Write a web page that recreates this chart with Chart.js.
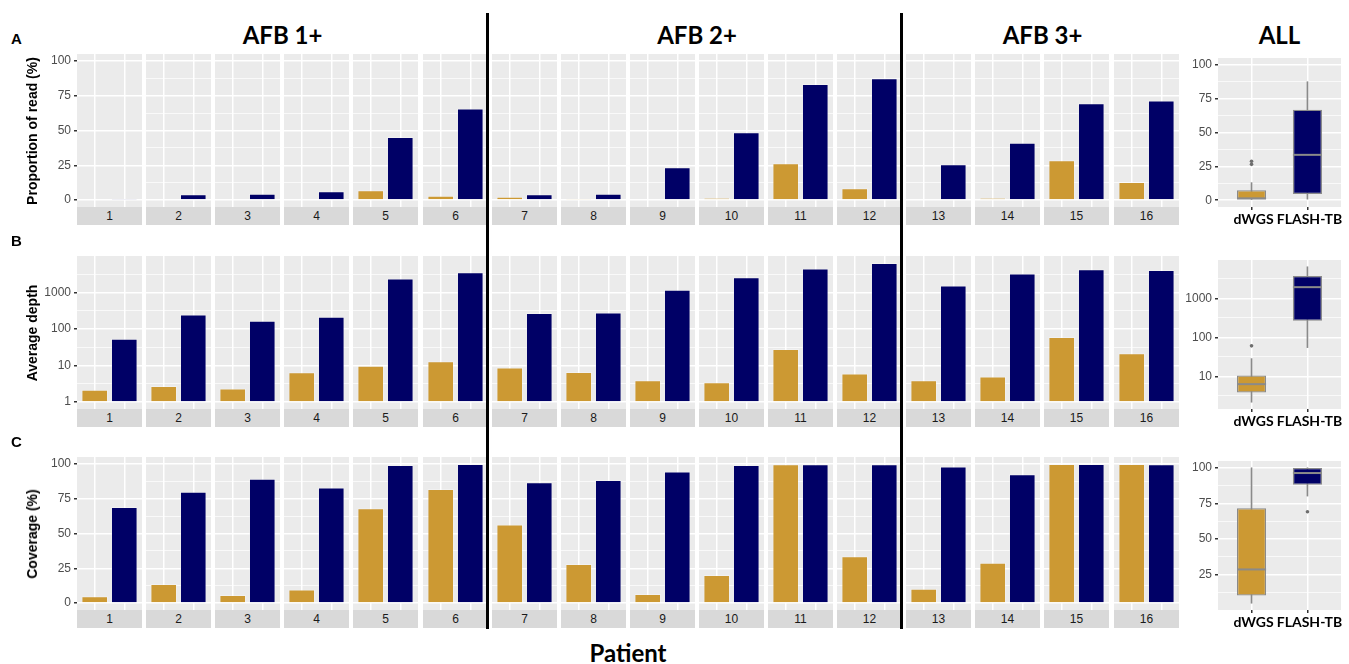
<!DOCTYPE html>
<html>
<head>
<meta charset="utf-8">
<script src="https://cdn.jsdelivr.net/npm/chart.js@4.4.0/dist/chart.umd.min.js"></script>
<style>
    body { margin: 0; background: #fff; width: 1349px; height: 664px; overflow: hidden; position: relative;
           font-family: "Liberation Sans", Arial, sans-serif; }
    canvas { position: absolute; }
    .strip { position: absolute; background: #d9d9d9; color: #1a1a1a; font-size: 12px; text-align: center; line-height: 18px; }
    .head { position: absolute; font-family: Lato, sans-serif; font-weight: bold; font-size: 24px; line-height: 24px;
            transform: translateX(-50%); white-space: nowrap; color: #000; }
    .tag { position: absolute; font-weight: bold; font-size: 15px; line-height: 15px; color: #000; }
    .ytitle { position: absolute; font-weight: bold; font-size: 14px; color: #000; white-space: nowrap;
              transform: translate(-50%, -50%) rotate(-90deg); }
    .sep { position: absolute; background: #000; width: 3px; top: 13px; height: 616px; }
</style>
</head>
<body>
<script>
// ============================================================================
// dWGS vs FLASH-TB per patient, faceted by smear grade (AFB 1+ / 2+ / 3+)
// ============================================================================

const patients = ['1', '2', '3', '4', '5', '6', '7', '8', '9', '10', '11', '12', '13', '14', '15', '16'];
const methods = ['dWGS', 'FLASH-TB'];
const afbGroups = ['AFB 1+', 'AFB 2+', 'AFB 3+'];
const afbSizes = [6, 6, 4];

// A - proportion of reads (%)
const readDwgs = [0, 0, 0, 0.5, 7.0, 3.1, 2.4, 1.0, 0.5, 1.4, 26.5, 8.4, 0.7, 1.4, 28.7, 13.0];
const readFlash = [0.8, 4.1, 4.6, 6.3, 45.3, 65.8, 4.1, 4.6, 23.6, 48.7, 83.4, 87.5, 25.8, 41.2, 69.6, 71.6];

// B - average depth
const depthDwgs = [2.17, 2.73, 2.36, 6.58, 9.8, 13.1, 8.8, 6.7, 3.98, 3.5, 28.5, 6.05, 3.98, 5.0, 60.5, 21.7];
const depthFlash = [54.5, 251, 169, 217, 2410, 3590, 273, 285, 1183, 2620, 4520, 6440, 1552, 3300, 4330, 4150];

// C - coverage (%)
const covDwgs = [4.8, 13.7, 5.8, 9.8, 68.1, 82.0, 56.4, 28.1, 6.5, 20.1, 99.8, 33.6, 10.3, 29.0, 100, 100];
const covFlash = [69.1, 80.1, 89.4, 83.0, 99.3, 100, 86.8, 88.5, 94.5, 99.3, 99.8, 99.8, 98.1, 92.6, 100, 99.8];

const percentTicks = [0, 25, 50, 75, 100];
const depthTicks = [1, 10, 100, 1000];

const GOLD = '#cc9933';
const NAVY = '#000066';
const PANEL_BG = '#ebebeb';
const BOX_LINE = '#8a8a8a';

// layout (pixels)
const PANEL_X0 = 77, PANEL_STEP = 69.1, PANEL_W = 65, PANEL_H = 153, STRIP_H = 18;
const ROW_TOPS = [54, 256, 457];
const AXIS_W = 57;
const BOX_X = 1218, BOX_W = 123, BOX_AXIS_W = 36, BOX_LABEL_H = 24;

const rows = [
    { tag: 'A', title: 'Proportion of read (%)', dwgs: readDwgs, flash: readFlash, ticks: percentTicks, log: false, fixed: [0, 100] },
    { tag: 'B', title: 'Average depth', dwgs: depthDwgs, flash: depthFlash, ticks: depthTicks, log: true },
    { tag: 'C', title: 'Coverage (%)', dwgs: covDwgs, flash: covFlash, ticks: percentTicks, log: false }
];

Chart.defaults.font.family = '"Liberation Sans", Arial, sans-serif';

function el(cls, text, css) {
    const d = document.createElement('div');
    d.className = cls;
    d.textContent = text;
    Object.assign(d.style, css);
    document.body.appendChild(d);
    return d;
}

function addCanvas(left, top, w, h) {
    const c = document.createElement('canvas');
    c.width = w; c.height = h;
    Object.assign(c.style, { left: left + 'px', top: top + 'px', width: w + 'px', height: h + 'px' });
    document.body.appendChild(c);
    return c;
}

// ggplot-like 5% expansion, done in log space for log axes
function expandRange(lo, hi, log) {
    const a = log ? Math.log10(lo) : lo, b = log ? Math.log10(hi) : hi;
    const pad = (b - a) * 0.05;
    return log ? [10 ** (a - pad), 10 ** (b + pad)] : [a - pad, b + pad];
}

// major breaks plus minor breaks half way between them
function tickList(majors, range, log) {
    const f = log ? Math.log10 : v => v;
    const g = log ? v => 10 ** v : v => v;
    const tm = majors.map(f), step = tm[1] - tm[0];
    const lo = f(range[0]), hi = f(range[1]);
    const list = tm.map(v => ({ value: v, minor: false }));
    [tm[0] - step, ...tm].forEach(v => list.push({ value: v + step / 2, minor: true }));
    return list
        .filter(t => t.value >= lo - 1e-9 && t.value <= hi + 1e-9)
        .sort((a, b) => a.value - b.value)
        .map(t => ({ value: g(t.value), minor: t.minor }));
}

function quantile(sorted, p) {
    const h = (sorted.length - 1) * p, i = Math.floor(h);
    const next = i + 1 < sorted.length ? sorted[i + 1] : sorted[i];
    return sorted[i] + (h - i) * (next - sorted[i]);
}

// Tukey box stats (computed on log10 values for the depth row, like scale_y_log10)
function boxStats(values, log) {
    const t = values.map(v => log ? Math.log10(v) : v).sort((a, b) => a - b);
    const q1 = quantile(t, 0.25), med = quantile(t, 0.5), q3 = quantile(t, 0.75);
    const iqr = q3 - q1, loF = q1 - 1.5 * iqr, hiF = q3 + 1.5 * iqr;
    const inside = t.filter(v => v >= loF && v <= hiF);
    const back = v => log ? 10 ** v : v;
    return {
        q1: back(q1), med: back(med), q3: back(q3),
        lo: back(Math.min(...inside)), hi: back(Math.max(...inside)),
        out: t.filter(v => v < loF || v > hiF).map(back)
    };
}

const panelBg = {
    id: 'panelBg',
    beforeDraw(chart) {
        const { ctx, chartArea: a } = chart;
        ctx.save();
        ctx.fillStyle = PANEL_BG;
        ctx.fillRect(a.left, a.top, a.width, a.height);
        ctx.restore();
    }
};

const medianLines = {
    id: 'medianLines',
    afterDatasetsDraw(chart) {
        const ds = chart.data.datasets[0];
        const { ctx } = chart;
        ctx.save();
        ctx.strokeStyle = BOX_LINE;
        ctx.lineWidth = 2;
        chart.getDatasetMeta(0).data.forEach((bar, i) => {
            const { x, width } = bar.getProps(['x', 'width'], true);
            const y = chart.scales.y.getPixelForValue(ds.medians[i]);
            ctx.beginPath();
            ctx.moveTo(x - width / 2, y);
            ctx.lineTo(x + width / 2, y);
            ctx.stroke();
        });
        ctx.restore();
    }
};

function yScale(range, row, axisW) {
    const list = tickList(row.ticks, range, row.log);
    const show = axisW > 0;
    return {
        type: row.log ? 'logarithmic' : 'linear',
        min: range[0], max: range[1], bounds: 'data', offset: false,
        afterBuildTicks: s => { s.ticks = list.map(t => ({ value: t.value, minor: t.minor })); },
        afterFit: s => { s.width = axisW; s.paddingTop = 0; s.paddingBottom = 0; },
        grid: {
            color: '#fff', offset: false,
            lineWidth: c => (c.tick && c.tick.minor ? 0.7 : 1.5),
            drawTicks: show, tickLength: 3,
            tickColor: c => (c.tick && c.tick.minor ? 'rgba(0,0,0,0)' : '#333')
        },
        border: { display: false },
        ticks: {
            display: show, padding: 3, color: '#4d4d4d', font: { size: 12 },
            callback: (v, i, ts) => (ts[i].minor ? '' : String(v))
        }
    };
}

function xScale(showLabels) {
    return {
        type: 'linear', min: 0.4, max: 2.6, bounds: 'data', offset: false,
        afterBuildTicks: s => { s.ticks = [{ value: 1 }, { value: 2 }]; },
        afterFit: s => {
            s.height = showLabels ? BOX_LABEL_H : 0;
            s.paddingLeft = 0; s.paddingRight = 0;
        },
        grid: { color: '#fff', offset: false, lineWidth: 1.5, drawTicks: showLabels, tickLength: 3, tickColor: '#333' },
        border: { display: false },
        ticks: {
            display: showLabels, padding: 1, color: '#000', labelOffset: 2,
            autoSkip: false, maxRotation: 0, minRotation: 0,
            font: { family: 'Lato, sans-serif', size: 14, weight: 'bold' },
            callback: v => methods[v - 1]
        }
    };
}

function baseOptions(scales, padding) {
    return {
        responsive: false, animation: false, events: [], devicePixelRatio: 1,
        layout: { padding: padding || 0 },
        plugins: { legend: { display: false }, tooltip: { enabled: false } },
        scales: scales
    };
}

function panelLeft(i) { return Math.round(PANEL_X0 + i * PANEL_STEP); }

function renderRow(row, r) {
    const top = ROW_TOPS[r];
    const all = row.dwgs.concat(row.flash);
    const barRange = row.fixed
        ? expandRange(row.fixed[0], row.fixed[1], row.log)
        : expandRange(row.log ? 1 : 0, Math.max(...all), row.log);

    patients.forEach((p, i) => {
        const left = panelLeft(i);
        const first = i === 0;
        const cv = addCanvas(first ? left - AXIS_W : left, top, PANEL_W + (first ? AXIS_W : 0), PANEL_H);
        new Chart(cv, {
            type: 'bar',
            data: {
                datasets: [{
                    data: [{ x: 1, y: row.dwgs[i] }, { x: 2, y: row.flash[i] }],
                    backgroundColor: [GOLD, NAVY],
                    borderColor: 'rgba(255,255,255,0.3)',
                    borderWidth: 1,
                    barPercentage: 0.9,
                    categoryPercentage: 1,
                    base: row.log ? 1 : 0
                }]
            },
            options: baseOptions({ x: xScale(false), y: yScale(barRange, row, first ? AXIS_W : 0) }),
            plugins: [panelBg]
        });
        el('strip', p, { left: left + 'px', top: (top + PANEL_H) + 'px', width: PANEL_W + 'px', height: STRIP_H + 'px' });
    });

    // ALL: box plots of the 16 patients
    const bd = boxStats(row.dwgs, row.log), bf = boxStats(row.flash, row.log);
    const boxRange = row.fixed
        ? expandRange(row.fixed[0], row.fixed[1], row.log)
        : expandRange(Math.min(...all), Math.max(...all), row.log);
    const cv = addCanvas(BOX_X - BOX_AXIS_W, top, BOX_AXIS_W + BOX_W + 8, PANEL_H + BOX_LABEL_H);
    new Chart(cv, {
        type: 'bar',
        data: {
            datasets: [
                {
                    data: [{ x: 1, y: [bd.q1, bd.q3] }, { x: 2, y: [bf.q1, bf.q3] }],
                    medians: [bd.med, bf.med],
                    backgroundColor: [GOLD, NAVY], borderColor: BOX_LINE, borderWidth: 1.3, borderSkipped: false,
                    barPercentage: 0.52, categoryPercentage: 1, grouped: false, order: 1
                },
                {
                    data: [{ x: 1, y: [bd.lo, bd.hi] }, { x: 2, y: [bf.lo, bf.hi] }],
                    backgroundColor: BOX_LINE, barThickness: 1, grouped: false, order: 2
                },
                {
                    type: 'scatter',
                    data: bd.out.map(v => ({ x: 1, y: v })).concat(bf.out.map(v => ({ x: 2, y: v }))),
                    pointRadius: 1.8, backgroundColor: '#6e6e6e', borderWidth: 0, order: 0
                }
            ]
        },
        options: baseOptions({ x: xScale(true), y: yScale(boxRange, row, BOX_AXIS_W) }, { right: 8 }),
        plugins: [panelBg, medianLines]
    });

    el('tag', row.tag, { left: '11px', top: (top - 23) + 'px' });
    el('ytitle', row.title, { left: '32px', top: (top + PANEL_H / 2) + 'px' });
}

function renderHeadings() {
    let start = 0;
    afbGroups.forEach((g, k) => {
        const a = panelLeft(start), b = panelLeft(start + afbSizes[k] - 1) + PANEL_W;
        el('head', g, { left: ((a + b) / 2) + 'px', top: '23px' });
        if (k > 0) el('sep', '', { left: (a - 6.5) + 'px' });
        start += afbSizes[k];
    });
    el('head', 'ALL', { left: (BOX_X + BOX_W / 2) + 'px', top: '23px' });
    const midBars = (PANEL_X0 + panelLeft(patients.length - 1) + PANEL_W) / 2;
    el('head', 'Patient', { left: midBars + 'px', top: '641px' });
}

function initializeFigure() {
    rows.forEach(renderRow);
    renderHeadings();
}

if (document.readyState === 'loading') {
    document.addEventListener('DOMContentLoaded', initializeFigure);
} else {
    initializeFigure();
}
</script>
</body>
</html>
